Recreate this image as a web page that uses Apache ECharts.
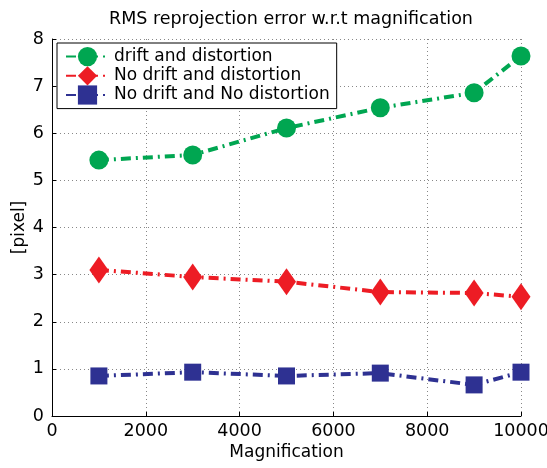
<!DOCTYPE html>
<html><head><meta charset="utf-8">
<script src="https://cdn.jsdelivr.net/npm/echarts@6/dist/echarts.min.js"></script>
<style>html,body{margin:0;padding:0;background:#fff}#c{width:547px;height:468px}</style>
</head><body><div id="c"></div>
<script>
const magnification = [1000, 3000, 5000, 7000, 9000, 10000];
const driftAndDistortion = [5.43, 5.54, 6.11, 6.54, 6.86, 7.64];
const noDriftAndDistortion = [3.10, 2.95, 2.85, 2.63, 2.61, 2.53];
const noDriftNoDistortion = [0.85, 0.93, 0.85, 0.91, 0.66, 0.93];
const seriesNames = ['drift and distortion', 'No drift and distortion', 'No drift and No distortion'];
const colors = ['#00a651', '#ed1c24', '#2e3192'];

const font = 'DejaVu Sans, Liberation Sans, Arial, sans-serif';
const pair = (arr) => magnification.map((m, i) => [m, arr[i]]);
const dash = [10, 5, 2, 5];
const mk = (name, data, color, symbol, size) => ({
  name, type: 'line', data: pair(data), symbol, symbolSize: size,
  lineStyle: { color, width: 4, type: dash },
  itemStyle: { color },
  emphasis: { disabled: true }
});
const chart = echarts.init(document.getElementById('c'), null, { renderer: 'canvas' });
chart.setOption({
  animation: false,
  textStyle: { fontFamily: font },
  title: {
    text: 'RMS reprojection error w.r.t magnification', left: 104, top: 5,
    textStyle: { fontFamily: font, fontSize: 17.5, fontWeight: 'normal', color: '#000' }
  },
  grid: { left: 52, top: 39, width: 469, height: 377, outerBoundsMode: 'none', containLabel: false },
  legend: {
    orient: 'vertical', left: 57, top: 43,
    backgroundColor: '#fff', borderColor: '#000', borderWidth: 1,
    padding: [4, 7, 4, 8], itemGap: 0, itemWidth: 43, itemHeight: 24,
    textStyle: { fontFamily: font, fontSize: 17, color: '#000' },
    data: seriesNames
  },
  xAxis: {
    type: 'value', min: 0, max: 10000, interval: 2000,
    name: 'Magnification', nameLocation: 'middle', nameGap: 28, nameMoveOverlap: false,
    nameTextStyle: { fontFamily: font, fontSize: 17, color: '#000' },
    axisLine: { show: true, lineStyle: { color: '#000', width: 1 } },
    axisTick: { show: true, inside: true, length: 4, lineStyle: { color: '#000' } },
    axisLabel: { fontFamily: font, fontSize: 17.5, color: '#000', margin: 6, formatter: (v) => String(v) },
    splitLine: { show: true, lineStyle: { color: '#888', type: [1, 3], width: 1 } }
  },
  yAxis: {
    type: 'value', min: 0, max: 8, interval: 1,
    name: '[pixel]', nameLocation: 'middle', nameGap: 24, nameMoveOverlap: false,
    nameTextStyle: { fontFamily: font, fontSize: 17, color: '#000' },
    axisLine: { show: true, lineStyle: { color: '#000', width: 1 } },
    axisTick: { show: true, inside: true, length: 4, lineStyle: { color: '#000' } },
    axisLabel: { fontFamily: font, fontSize: 17.5, color: '#000', margin: 8 },
    splitLine: { show: true, lineStyle: { color: '#888', type: [1, 3], width: 1 } }
  },
  series: [
    mk(seriesNames[0], driftAndDistortion, colors[0], 'circle', 19),
    mk(seriesNames[1], noDriftAndDistortion, colors[1], 'diamond', [19, 27]),
    mk(seriesNames[2], noDriftNoDistortion, colors[2], 'rect', 17)
  ]
});
</script></body></html>
